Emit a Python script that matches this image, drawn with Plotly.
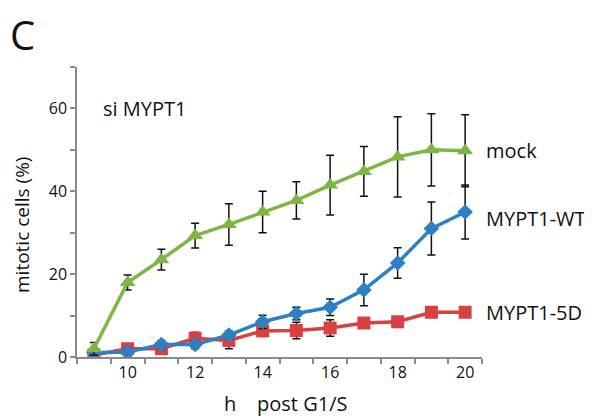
import plotly.graph_objects as go

hours = [9, 10, 11, 12, 13, 14, 15, 16, 17, 18, 19, 20]
mock = [2.0, 18.0, 23.5, 29.3, 32.0, 35.0, 37.8, 41.5, 44.8, 48.3, 50.0, 49.8]
mock_err = [1.5, 1.8, 2.5, 3.0, 5.0, 5.0, 4.5, 7.2, 6.0, 9.7, 8.7, 8.7]
wt = [1.0, 1.2, 3.0, 3.0, 5.3, 8.5, 10.5, 12.0, 16.2, 22.7, 31.0, 35.0]
wt_err = [1.0, 1.0, 1.0, 1.0, 1.0, 1.6, 1.5, 2.0, 3.8, 3.7, 6.4, 6.5]
d5 = [0.5, 2.0, 2.0, 4.5, 4.0, 6.3, 6.4, 7.0, 8.2, 8.5, 10.8, 10.8]
d5_err = [0.5, 0.5, 0.5, 1.5, 2.0, 1.0, 2.0, 2.0, 1.0, 0.5, 1.0, 1.0]
x_ticks = [10, 12, 14, 16, 18, 20]
y_ticks = [0, 10, 20, 30, 40, 50, 60, 70]
y_text = ["0", "", "20", "", "40", "", "60", ""]

GREEN = "#7DB644"
BLUE = "#2C80C3"
RED = "#D8413F"
FONT = "Open Sans"

fig = go.Figure()

def add(y, err, color, symbol, size, name):
    fig.add_trace(go.Scatter(
        x=hours, y=y, name=name, mode="lines+markers",
        line=dict(color=color, width=3.5),
        marker=dict(symbol=symbol, size=size, color=color),
        error_y=dict(type="data", array=err, visible=True,
                     color="#111111", thickness=1.5, width=4),
    ))

add(d5, d5_err, RED, "square", 13, "MYPT1-5D")
add(wt, wt_err, BLUE, "diamond", 12, "MYPT1-WT")
add(mock, mock_err, GREEN, "triangle-up", 14, "mock")

OFF = 8  # page body margin
W, H = 592 - OFF, 416 - OFF
L, R, T, B = 77 - OFF, 482 - OFF, 67 - OFF, 357 - OFF
def px(x):
    return (x - OFF - L) / (R - L)
def py(y):
    return (B - (y - OFF)) / (B - T)

ann = []
def text(t, x, y, size, xanchor="left", angle=0):
    ann.append(dict(text=t, x=px(x), y=py(y), xref="paper", yref="paper",
                    showarrow=False, xanchor=xanchor, yanchor="middle",
                    textangle=angle, font=dict(family=FONT, size=size, color="#111111")))

text("C", 22, 34, 40, xanchor="center")
text("si MYPT1", 101, 109, 20)
text("mock", 484, 150, 20)
text("MYPT1-WT", 484, 218, 20)
text("MYPT1-5D", 484, 312, 20)
text("h&nbsp;&nbsp;&nbsp;&nbsp;post G1/S", 285, 403, 20, xanchor="center")
text("mitotic cells (%)", 22, 225, 19, xanchor="center", angle=-90)

fig.update_layout(
    width=W, height=H,
    margin=dict(l=L, r=W - R, t=T, b=H - B),
    paper_bgcolor="white", plot_bgcolor="white",
    showlegend=False,
    font=dict(family=FONT, size=16, color="#111111"),
    annotations=ann,
    xaxis=dict(range=[8.5, 20.5], tickvals=x_ticks, ticks="",
               showgrid=False, zeroline=False,
               showline=True, linecolor="#8a8a8a", linewidth=1.5,
               tickfont=dict(size=16),
               minor=dict(tick0=8.5, dtick=1, ticks="outside", ticklen=5,
                          tickcolor="#8a8a8a", tickwidth=1.5, showgrid=False)),
    yaxis=dict(range=[0, 70], tickvals=y_ticks, ticktext=y_text,
               ticks="outside", ticklen=5, tickcolor="#8a8a8a", tickwidth=1.5,
               showgrid=False, zeroline=False,
               showline=True, linecolor="#8a8a8a", linewidth=1.5,
               tickfont=dict(size=16)),
)

fig.write_html("out.html")
